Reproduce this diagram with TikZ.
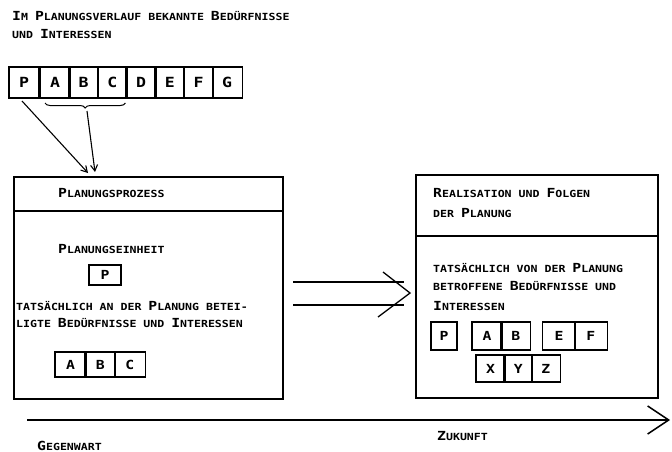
\documentclass[tikz,border=0pt]{standalone}
\usepackage{fontspec}
\setmainfont{DejaVu Sans Mono}[FakeStretch=1.18]
\usetikzlibrary{positioning,arrows.meta,decorations.pathreplacing}

\newcommand{\klein}{\fontsize{9.8}{11}\selectfont\bfseries}
\newcommand{\gross}{\fontsize{12.5}{14}\selectfont\bfseries}
\newcommand{\gk}[1]{{\fontsize{12.5}{14}\selectfont #1}}

\begin{document}
\begin{tikzpicture}[x=1pt, y=-1pt,
        txt/.style={anchor=base west, inner sep=0pt, font=\klein},
        feld/.style={rectangle, draw, line width=1.3pt, inner sep=0pt, outer sep=0pt,
                     minimum width=30pt, minimum height=31pt, font=\gross},
        rahmen/.style={rectangle, draw, line width=1.4pt, inner sep=0pt, outer sep=0pt},
        linie/.style={line width=1.3pt},
        klammer/.style={line width=1pt, decorate, decoration={brace, mirror, amplitude=5pt}},
        pfeil/.style={line width=1.1pt, -{Straight Barb[length=6pt, width=7pt]}},
        zeitpfeil/.style={line width=1.5pt, -{Straight Barb[length=21pt, width=28pt, line width=1.5pt]}}
    ]
    \useasboundingbox (0,0) rectangle (672,452);

        % Titel
        \node[txt] (titel1) at (12,21) {\gk{I}M \gk{P}LANUNGSVERLAUF BEKANNTE \gk{B}EDÜRFNISSE};
        \node[txt] (titel2) at (12,39) {UND \gk{I}NTERESSEN};

        % Bekannte Beduerfnisse
        \node[feld, font=\fontsize{14}{16}\selectfont\bfseries] (tp) at (24,82.5) {P};
        \node[feld, font=\fontsize{14}{16}\selectfont\bfseries, right = 1pt of tp] (ta) {A};
        \node[feld, font=\fontsize{14}{16}\selectfont\bfseries, right = -1.3pt of ta] (tb) {B};
        \node[feld, font=\fontsize{14}{16}\selectfont\bfseries, right = -1.3pt of tb] (tc) {C};
        \node[feld, font=\fontsize{14}{16}\selectfont\bfseries, right = -1.3pt of tc] (td) {D};
        \node[feld, font=\fontsize{14}{16}\selectfont\bfseries, right = -1.3pt of td] (te) {E};
        \node[feld, font=\fontsize{14}{16}\selectfont\bfseries, right = -1.3pt of te] (tf) {F};
        \node[feld, font=\fontsize{14}{16}\selectfont\bfseries, right = -1.3pt of tf] (tg) {G};

        \draw[klammer] ([xshift=5pt, yshift=-5pt]ta.south west) -- ([xshift=-2pt, yshift=-5pt]tc.south east);
        \coordinate (spitze) at (87,111);

        % Planungsprozess
        \node[rahmen, minimum width=269pt, minimum height=222pt] (plan) at (148.5,288) {};
        \draw[linie] ([yshift=-34pt]plan.north west) -- ([yshift=-34pt]plan.north east);
        \node[txt] (plantitel) at (58,197) {\gk{P}LANUNGSPROZESS};
        \node[txt] (einheit) at (58,253) {\gk{P}LANUNGSEINHEIT};
        \node[feld, minimum width=32pt, minimum height=20pt] (pe) at (105,275) {P};
        \node[txt] (beteil1) at (16,310) {TATSÄCHLICH AN DER \gk{P}LANUNG BETEI-};
        \node[txt] (beteil2) at (16,327) {LIGTE \gk{B}EDÜRFNISSE UND \gk{I}NTERESSEN};
        \node[feld, minimum width=31pt, minimum height=25pt] (pa) at (70.5,364.5) {A};
        \node[feld, minimum width=31pt, minimum height=25pt, right = -1.3pt of pa] (pb) {B};
        \node[feld, minimum width=31pt, minimum height=25pt, right = -1.3pt of pb] (pc) {C};

        % Pfeile in den Planungsprozess
        \draw[pfeil] ([xshift=-2pt, yshift=-3pt]tp.south) -- ([xshift=74pt, yshift=4pt]plan.north west);
        \draw[pfeil] (spitze) -- ([xshift=81pt, yshift=5pt]plan.north west);

        % Realisation
        \node[rahmen, minimum width=242pt, minimum height=223pt] (real) at (537,286.5) {};
        \draw[linie] ([yshift=-61pt]real.north west) -- ([yshift=-61pt]real.north east);
        \node[txt] (realtitel1) at (433,197) {\gk{R}EALISATION UND \gk{F}OLGEN};
        \node[txt] (realtitel2) at (433,217) {DER \gk{P}LANUNG};
        \node[txt] (betr1) at (433,272) {TATSÄCHLICH VON DER \gk{P}LANUNG};
        \node[txt] (betr2) at (433,290) {BETROFFENE \gk{B}EDÜRFNISSE UND};
        \node[txt] (betr3) at (433,310) {\gk{I}NTERESSEN};

        \node[feld, minimum width=26pt, minimum height=28pt] (rp) at (444,336) {P};
        \node[feld, minimum width=30pt, minimum height=28pt] (ra) at (487,336) {A};
        \node[feld, minimum width=30pt, minimum height=28pt, right = -1.3pt of ra] (rb) {B};
        \node[feld, minimum width=33pt, minimum height=28pt] (re) at (559,336) {E};
        \node[feld, minimum width=33pt, minimum height=28pt, right = -1.3pt of re] (rf) {F};
        \node[feld, minimum width=29pt, minimum height=27pt] (rx) at (490.5,368.5) {X};
        \node[feld, minimum width=29pt, minimum height=27pt, right = -1.3pt of rx] (ry) {Y};
        \node[feld, minimum width=29pt, minimum height=27pt, right = -1.3pt of ry] (rz) {Z};

        % Doppelpfeil
        \draw[linie] ([xshift=10pt, yshift=6pt]plan.east) -- ([xshift=-12pt, yshift=4.5pt]real.west);
        \draw[linie] ([xshift=10pt, yshift=-17pt]plan.east) -- ([xshift=-12pt, yshift=-18.5pt]real.west);
        \draw[linie] ([xshift=-33pt, yshift=14.5pt]real.west) -- ([xshift=-6pt, yshift=-6.5pt]real.west)
            -- ([xshift=-38pt, yshift=-30.5pt]real.west);

        % Zeitachse
        \coordinate (zstart) at (27,420);
        \coordinate (zende) at (670,420);
        \draw[zeitpfeil] (zstart) -- (zende);
        \node[txt] (gegenwart) at (37,450) {\gk{G}EGENWART};
        \node[txt] (zukunft) at (437,440) {\gk{Z}UKUNFT};

    \end{tikzpicture}
\end{document}
